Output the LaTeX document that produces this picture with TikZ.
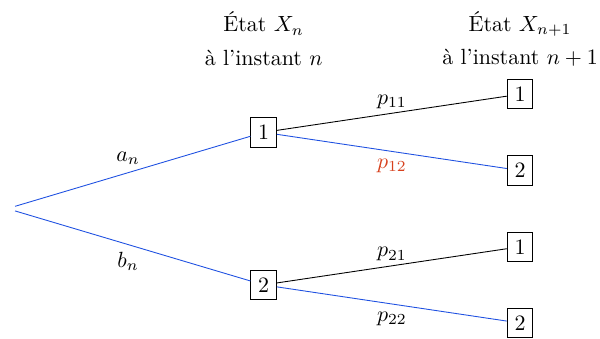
\documentclass[tikz,border=0pt]{standalone}
\usepackage{amsmath,amssymb}
\usepackage{xcolor}
\usepackage{tikz}
\usetikzlibrary{positioning, calc}
\definecolor{branche}{RGB}{30,80,225}
\definecolor{accent}{RGB}{215,65,30}
\tikzset{
  etat/.style={
    rectangle, draw, inner sep=3.33pt, font=\normalsize
  },
  racine/.style={inner sep=3.33pt},
  every edge/.style={draw, thin},
  chemin/.style={draw=branche},
  titre/.style={font=\normalsize, inner sep=1pt},
}

\begin{document}
\begin{tikzpicture}[x=4.1cm, y=0.61cm]
  \node[racine] (R) at (0,0) {};
  \node[etat] (A) at (1,2) {1};
  \node[etat] (B) at (1,-2) {2};
  \node[etat] (A1) at (2,3) {1};
  \node[etat] (A2) at (2,1) {2};
  \node[etat] (B1) at (2,-1) {1};
  \node[etat] (B2) at (2,-3) {2};
  % en-tetes des colonnes
  \node[titre] (tn) at (1,4.85) {État $X_n$};
  \node[titre] (in) at (1,3.95) {à l'instant $n$};
  \node[titre] (tm) at (2,4.85) {État $X_{n+1}$};
  \node[titre] (im) at (2,3.95) {à l'instant $n+1$};
  \coordinate (haut) at ($(tn.north)+(0,0.15cm)$);
  \path (haut);
  \path (R) edge[chemin] node[above, pos=0.48]{$a_n$} (A)
        (R) edge[chemin] node[below, pos=0.48]{$b_n$} (B)
        (A) edge node[above, inner sep=2pt]{$p_{11}$} (A1)
        (A) edge[chemin] node[below, text=accent]{$p_{12}$} (A2)
        (B) edge node[above, inner sep=2pt]{$p_{21}$} (B1)
        (B) edge[chemin] node[below]{$p_{22}$} (B2);
\end{tikzpicture}
\end{document}
